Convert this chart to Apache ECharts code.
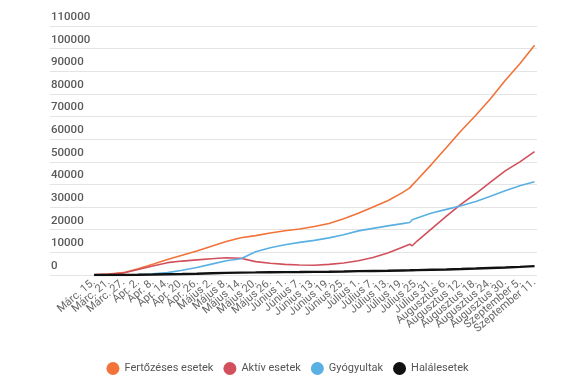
<!DOCTYPE html>
<html>
<head>
<meta charset="utf-8">
<script src="https://cdn.jsdelivr.net/npm/echarts@6/dist/echarts.min.js"></script>
<style>
html,body{margin:0;padding:0;background:#fff;}
#chart{width:575px;height:387px;}
</style>
</head>
<body>
<div id="chart"></div>
<script>
// Day index counted from "Márc. 15." (day 0)
var dayIndex = [0,6,12,18,24,30,36,42,48,54,60,66,72,78,84,90,96,102,108,114,120,126,129,130,132,138,144,150,156,162,168,174,180];

var tickLabels = ['Márc. 15.','Márc. 21.','Márc. 27.','Ápr. 2.','Ápr. 8.','Ápr. 14.','Ápr. 20.','Ápr. 26.','Május 2.','Május 8.','Május 14.','Május 20.','Május 26.','Június 1.','Június 7.','Június 13.','Június 19.','Június 25.','Július 1.','Július 7.','Július 13.','Július 19.','Július 25.','Július 31.','Augusztus 6.','Augusztus 12.','Augusztus 18.','Augusztus 24.','Augusztus 30.','Szeptember 5.','Szeptember 11.'];

var fertozeses = [130,370,1030,2740,4760,6880,8750,10640,12730,14810,16440,17390,18590,19520,20290,21400,22760,24830,27300,30000,32800,36400,38500,39700,42000,49000,56300,63700,70600,77900,85900,93300,101500];
var aktiv = [120,340,900,2400,4000,5450,6150,6700,7200,7600,7400,5900,5200,4700,4450,4300,4700,5300,6300,7700,9700,12300,13600,12900,15000,20500,26000,31300,36000,41000,46000,50000,54500];
var gyogyultak = [10,25,90,220,530,1050,2100,3350,4800,6300,7200,10300,12000,13400,14400,15300,16400,17800,19500,20600,21700,22700,23200,24400,25200,27400,29000,30600,32500,34800,37200,39400,41200];
var halalesetek = [0,0,20,90,210,350,450,580,770,920,1070,1140,1220,1290,1320,1370,1440,1540,1690,1800,1890,2010,2070,2100,2150,2300,2460,2660,2870,3100,3340,3600,3900];

var seriesNames = ['Fertőzéses esetek','Aktív esetek','Gyógyultak','Halálesetek'];
var seriesValues = [fertozeses, aktiv, gyogyultak, halalesetek];
var colors = ['#F2733A','#D2505C','#5AB0E2','#111111'];
var widths = [1.6,1.6,1.6,2.4];

function pairs(vals){ return vals.map(function(v,i){ return [dayIndex[i], v]; }); }

var chart = echarts.init(document.getElementById('chart'), null, {renderer:'canvas'});
chart.setOption({
  animation:false,
  color: colors,
  textStyle:{fontFamily:'Roboto'},
  grid:{left:50, right:38, top:26, bottom:112},
  legend:{
    bottom:7, left:'center',
    icon:'circle', itemWidth:13, itemHeight:13, itemGap:10,
    textStyle:{color:'#555', fontSize:11, fontFamily:'Roboto'},
    data: seriesNames
  },
  xAxis:{
    type:'value', min:-18, max:181, interval:6,
    axisLine:{show:false}, axisTick:{show:false}, splitLine:{show:false},
    axisLabel:{
      rotate:40, margin:6, fontSize:11, color:'#666', fontFamily:'Roboto',
      showMaxLabel:false, showMinLabel:false, hideOverlap:false,
      formatter:function(v){ if(v<0 || v%6!==0) return ''; return tickLabels[v/6]||''; }
    }
  },
  yAxis:{
    type:'value', min:0, max:110000, interval:10000,
    axisLine:{show:false}, axisTick:{show:false},
    splitLine:{lineStyle:{color:'#e4e4e4', width:1.2}},
    axisLabel:{
      inside:true, margin:1, verticalAlign:'bottom', padding:[0,0,3,0],
      fontSize:11.5, color:'#5a5a5a', fontFamily:'Roboto', fontWeight:500,
      formatter:function(v){ return String(v); }
    }
  },
  series: seriesNames.map(function(n,i){
    return {
      name:n, type:'line', symbol:'none', smooth:false,
      data: pairs(seriesValues[i]),
      lineStyle:{width:widths[i], color:colors[i]},
      z: i===3 ? 5 : 3
    };
  })
});
</script>
</body>
</html>
